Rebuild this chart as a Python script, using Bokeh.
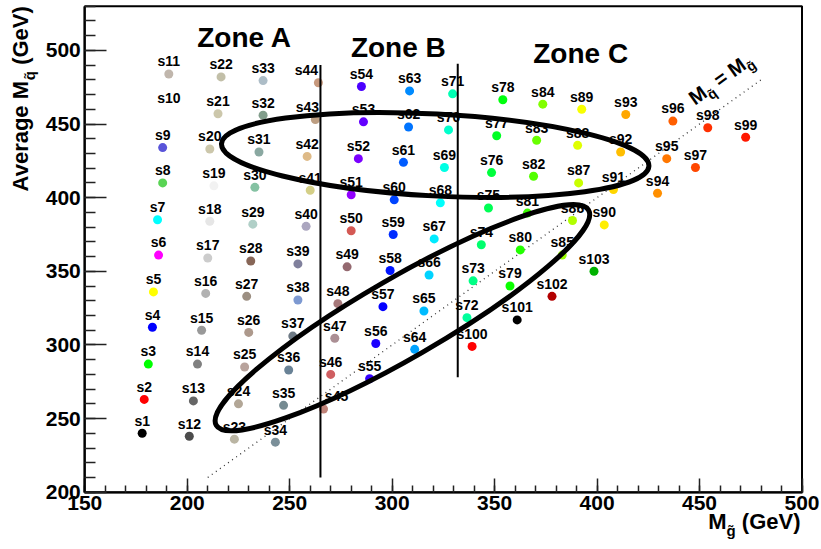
import math
import colorsys

from bokeh.core.properties import value
from bokeh.embed import file_html
from bokeh.models import (ColumnDataSource, Label, LinearAxis, Range1d,
                          SingleIntervalTicker)
from bokeh.plotting import figure
from bokeh.resources import INLINE

# ---------------------------------------------------------------- data
POINT_IDS = list(range(1, 104))
POINT_NAMES = [f"s{i}" for i in POINT_IDS]

# gluino mass (GeV) of each scan point s1 ... s103
M_GLUINO = [
    178, 179, 181, 183, 183.5, 186, 185.5, 188, 188, 191, 191,            # s1-s11
    201, 203, 205, 207, 209, 210, 211, 213, 211, 215, 216.5,              # s12-s22
    223, 225, 228, 230, 229, 231, 232, 233, 235, 237, 237,                # s23-s33
    243, 247, 249.5, 251.5, 254, 254, 258, 260, 258.5, 262.5, 264,        # s34-s44
    266.5, 270, 272, 273.5, 278, 280, 280, 283.5, 286, 285,               # s45-s54
    289, 292, 295.5, 299, 300.5, 301, 305.5, 308, 308.5,                  # s55-s63
    311, 315.5, 318, 320.5, 323.5, 325.5, 327.5, 329.5,                   # s64-s71
    336.5, 339.5, 343.5, 347, 348.5, 351, 354,                            # s72-s78
    357.5, 362.5, 366, 369, 370.5, 373.5,                                 # s79-s84
    383, 388, 391, 390.5, 392.5,                                          # s85-s89
    403.5, 408, 411.5, 414,                                               # s90-s93
    429.5, 434, 437,                                                      # s94-s96
    448, 454,                                                             # s97-s98
    472.5,                                                                # s99
    339, 361, 378, 398.5,                                                 # s100-s103
]

# average squark mass (GeV) of each scan point s1 ... s103
M_SQUARK = [
    240, 263, 287, 312, 336, 361, 385, 410, 434, 459, 484,                # s1-s11
    238, 262, 287, 310, 335, 359, 384, 408, 433, 457, 482,                # s12-s22
    236, 260, 285, 308.5, 333, 357, 382, 407, 431, 456, 479.5,            # s23-s33
    234, 259, 283, 306, 330.5, 355, 380.5, 405, 428, 453, 478,            # s34-s44
    256.5, 280, 304.5, 328, 353, 377.5, 402, 426.5, 451.5, 475.5,         # s45-s54
    277, 301, 326, 350.5, 375, 398.5, 424, 448, 472.5,                    # s55-s63
    297, 323, 347.5, 372, 396.5, 420.5, 446, 470.5,                       # s64-s71
    318.5, 343.5, 368, 393, 417, 442, 466.5,                              # s72-s78
    340, 364.5, 389.5, 414.5, 439, 463.5,                                 # s79-s84
    361, 384.5, 410, 435.5, 460,                                          # s85-s89
    381.5, 405.5, 431, 456.5,                                             # s90-s93
    403, 426.5, 452,                                                      # s94-s96
    420.5, 447.5,                                                         # s97-s98
    441,                                                                  # s99
    299, 317, 333, 350,                                                   # s100-s103
]

X_LIMITS = (150, 500)            # M_gluino axis (GeV)
Y_LIMITS = (200, 530)            # average M_squark axis (GeV)

ZONE_NAMES = ["Zone A", "Zone B", "Zone C"]
ZONE_LABEL_X = [228, 303, 392]
ZONE_LABEL_Y = [509, 502, 498]
ZONE_EDGE_X = [265, 332]
ZONE_EDGE_Y0 = [210, 278]
ZONE_EDGE_Y1 = [490, 491]

DIAGONAL_M = [210, 480]          # the M_squark = M_gluino line

ELLIPSE_X = [321, 305]
ELLIPSE_Y = [429, 318.5]
ELLIPSE_W_PX = [428, 430]
ELLIPSE_H_PX = [82, 80]
ELLIPSE_ANGLE_DEG = [-3, 30]

# a few point labels sit a little off their marker (pixels)
LABEL_NUDGE = {"s43": -8, "s44": -12, "s45": 13}

# ---------------------------------------------------------------- ROOT colour table
ROOT_FIXED = {
    1: (0, 0, 0), 2: (1, 0, 0), 3: (0, 1, 0), 4: (0, 0, 1), 5: (1, 1, 0),
    6: (1, 0, 1), 7: (0, 1, 1), 8: (0.35, 0.83, 0.33), 9: (0.35, 0.33, 0.85),
    10: (1, 1, 1), 11: (0.754, 0.715, 0.676),
    12: (0.3, 0.3, 0.3), 13: (0.4, 0.4, 0.4), 14: (0.5, 0.5, 0.5),
    15: (0.6, 0.6, 0.6), 16: (0.7, 0.7, 0.7), 17: (0.8, 0.8, 0.8),
    18: (0.9, 0.9, 0.9), 19: (0.95, 0.95, 0.95),
    20: (0.8, 0.78, 0.67), 21: (0.8, 0.78, 0.67), 22: (0.76, 0.75, 0.66),
    23: (0.73, 0.71, 0.64), 24: (0.70, 0.65, 0.59), 25: (0.72, 0.64, 0.61),
    26: (0.68, 0.6, 0.55), 27: (0.61, 0.56, 0.51), 28: (0.53, 0.4, 0.34),
    29: (0.69, 0.81, 0.78), 30: (0.52, 0.76, 0.64), 31: (0.54, 0.66, 0.63),
    32: (0.51, 0.62, 0.55), 33: (0.68, 0.74, 0.78), 34: (0.48, 0.56, 0.6),
    35: (0.46, 0.54, 0.57), 36: (0.41, 0.51, 0.59), 37: (0.43, 0.48, 0.52),
    38: (0.49, 0.6, 0.82), 39: (0.5, 0.5, 0.61), 40: (0.67, 0.65, 0.75),
    41: (0.83, 0.81, 0.53), 42: (0.87, 0.73, 0.53), 43: (0.74, 0.62, 0.51),
    44: (0.78, 0.6, 0.49), 45: (0.75, 0.51, 0.47), 46: (0.81, 0.37, 0.38),
    47: (0.67, 0.56, 0.58), 48: (0.65, 0.47, 0.48), 49: (0.58, 0.41, 0.44),
    50: (0.83, 0.35, 0.33),
    100: (1, 0, 0), 101: (0, 0, 0), 102: (0.7, 0, 0), 103: (0, 0.7, 0),
}


def root_color(idx):
    if idx in ROOT_FIXED:
        rgb = ROOT_FIXED[idx]
    else:  # "pretty" violet -> red spectrum of colours 51..99
        hue = 280.0 - (idx - 50) * 280.0 / 50.0
        rgb = colorsys.hls_to_rgb(hue / 360.0, 0.5, 1.0)
    return "#%02x%02x%02x" % tuple(int(round(c * 255)) for c in rgb)


COLORS = [root_color(i) for i in POINT_IDS]

# ---------------------------------------------------------------- canvas geometry
W, H = 821, 549
FRAME_L, FRAME_R, FRAME_T, FRAME_B = 84.3, 801.5, 5.7, 491.7   # pixel edges of the data box
SX = (FRAME_R - FRAME_L) / (X_LIMITS[1] - X_LIMITS[0])
SY = (FRAME_B - FRAME_T) / (Y_LIMITS[1] - Y_LIMITS[0])


def px_to_x(px):
    return X_LIMITS[0] + (px - FRAME_L) / SX


def py_to_y(py):
    return Y_LIMITS[1] - (py - FRAME_T) / SY


# the drawing area spans the whole canvas, axes are pinned to the data box
p = figure(
    width=W, height=H,
    x_range=Range1d(px_to_x(0), px_to_x(W)), y_range=Range1d(py_to_y(H), py_to_y(0)),
    output_backend="svg", toolbar_location=None,
    x_axis_location=None, y_axis_location=None, min_border=0,
)
p.grid.visible = False
p.background_fill_color = "white"
p.border_fill_color = "white"
p.outline_line_color = None

FONT = "Liberation Sans"
TEXT_LIFT = 0.4   # em; raises alphabetic-baseline text onto its anchor

xaxis = LinearAxis(fixed_location=Y_LIMITS[0], bounds=X_LIMITS)
yaxis = LinearAxis(fixed_location=X_LIMITS[0], bounds=Y_LIMITS)
p.add_layout(xaxis, "below")
p.add_layout(yaxis, "left")
for ax, tick_len in ((xaxis, 14), (yaxis, 22)):
    ax.ticker = SingleIntervalTicker(interval=50, num_minor_ticks=5)
    ax.major_tick_in = tick_len
    ax.major_tick_out = 0
    ax.minor_tick_in = tick_len // 2
    ax.minor_tick_out = 0
    ax.axis_line_color = "black"
    ax.axis_line_width = 2
    ax.major_tick_line_color = "#222222"
    ax.minor_tick_line_color = "#222222"
    ax.major_tick_line_width = 1.5
    ax.minor_tick_line_width = 1.5
    ax.major_label_text_font = FONT
    ax.major_label_text_font_style = "bold"
    ax.major_label_text_font_size = "21px"
    ax.major_label_text_color = "black"
    ax.major_label_standoff = 4

# box around the data area
p.quad(left=[X_LIMITS[0]], right=[X_LIMITS[1]], bottom=[Y_LIMITS[0]], top=[Y_LIMITS[1]],
       fill_color=None, line_color="black", line_width=2)

# M_squark = M_gluino diagonal
p.line(DIAGONAL_M, DIAGONAL_M, line_color="#333333", line_width=1.3, line_dash="1 4")

# scan points and their names
src = ColumnDataSource(dict(
    x=M_GLUINO, y=M_SQUARK, name=POINT_NAMES, color=COLORS,
    dx=[LABEL_NUDGE.get(n, 0) for n in POINT_NAMES],
))
p.scatter("x", "y", source=src, size=9, fill_color="color", line_color=None)
p.text("x", "y", text="name", source=src, x_offset="dx", y_offset=-7 - TEXT_LIFT * 14,
       text_font=value(FONT), text_font_style="bold", text_font_size="14px",
       text_align="center", text_baseline="alphabetic", text_color="black")

# zone boundaries and names
p.segment(x0=ZONE_EDGE_X, y0=ZONE_EDGE_Y0, x1=ZONE_EDGE_X, y1=ZONE_EDGE_Y1,
          line_color="black", line_width=2)
p.text(x=ZONE_LABEL_X, y=ZONE_LABEL_Y, text=ZONE_NAMES,
       text_font=value(FONT), text_font_style="bold", text_font_size="28px",
       text_align="center", text_baseline="alphabetic", text_color="black")

# highlighted regions
p.ellipse(x=ELLIPSE_X, y=ELLIPSE_Y, width=ELLIPSE_W_PX, height=ELLIPSE_H_PX,
          angle=[math.radians(a) for a in ELLIPSE_ANGLE_DEG],
          width_units="screen", height_units="screen",
          fill_color=None, line_color="black", line_width=5)

# ---------------------------------------------------------------- titles with sub-scripts
# advance widths of Arial/Liberation Sans Bold, in em
ADV = {" ": .278, "(": .333, ")": .333, "G": .778, "e": .556, "V": .667, "A": .722,
       "v": .556, "r": .389, "a": .556, "g": .611, "M": .833, "q": .611, "=": .584,
       "\u0303": 0.0}


def text_width(s, size):
    return sum(ADV.get(c, .556) for c in s) * size


def run(pieces, x, y, angle, anchor="left"):
    """Lay out (text, size_px, drop_px) pieces along a rotated baseline."""
    total = sum(text_width(t, s) for t, s, _ in pieces)
    d = -total if anchor == "right" else 0.0
    ca, sa = math.cos(angle), math.sin(angle)
    for t, s, drop in pieces:
        # svg drops leading blanks, so step over them here instead
        lead = len(t) - len(t.lstrip(" "))
        d += text_width(" " * lead, s)
        t = t.lstrip(" ")
        drop = drop - TEXT_LIFT * s
        p.add_layout(Label(
            x=x, y=y, text=t, angle=angle,
            x_offset=d * ca + drop * sa, y_offset=d * sa - drop * ca,
            text_font=FONT, text_font_style="bold", text_font_size=f"{s}px",
            text_align="left", text_baseline="alphabetic", text_color="black",
        ))
        d += text_width(t, s)


Q_TILDE = "q\u0303"
G_TILDE = "g\u0303"

# y title, right-aligned at the top of the axis
run([("Average M", 22, 0), (Q_TILDE, 15, 6), (" (GeV)", 22, 0)],
    x=px_to_x(29), y=Y_LIMITS[1], angle=math.pi / 2, anchor="right")
# x title, right-aligned at the end of the axis
run([("M", 22, 0), (G_TILDE, 15, 6), (" (GeV)", 22, 0)],
    x=px_to_x(800), y=py_to_y(530), angle=0.0, anchor="right")
# label of the diagonal
diag_angle = math.atan(SY / SX)
run([("M", 20, 0), (Q_TILDE, 14, 5), (" = M", 20, 0), (G_TILDE, 14, 5)],
    x=px_to_x(695), y=py_to_y(106), angle=diag_angle)

open("out.html", "w").write(file_html(p, INLINE))
